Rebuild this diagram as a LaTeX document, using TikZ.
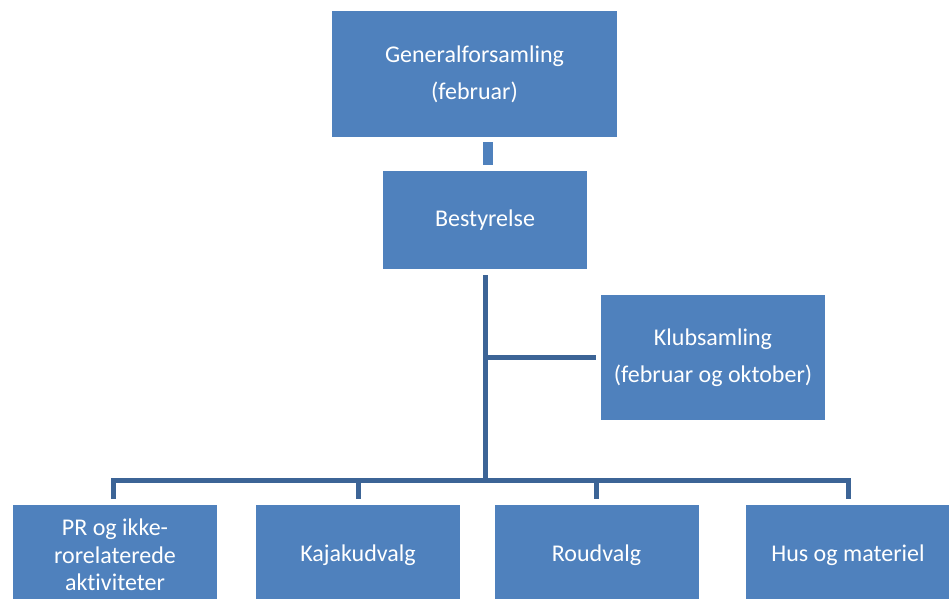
\documentclass[tikz,border=0pt]{standalone}
\usepackage{fontspec}
\setmainfont{Carlito}[Ligatures=NoCommon]
\usetikzlibrary{calc,positioning}
\definecolor{boxblue}{RGB}{79,129,189}
\definecolor{lineblue}{RGB}{60,100,150}
\tikzset{
    orgbox/.style={fill=boxblue, text=white, inner sep=0pt, align=center,
        font=\fontsize{18}{20.5}\selectfont},
    loose/.style={font=\fontsize{18}{27.75}\selectfont},
    tree/.style={draw=lineblue, line width=3.75pt, line join=miter},
    stub/.style={draw=boxblue, line width=7.5pt}
}

\begin{document}
\begin{tikzpicture}[x=0.75pt,y=0.75pt,yscale=-1,xscale=1]
\clip (0,0) rectangle (949,599);
%Boxes
\node [orgbox, loose, minimum width=213.75pt, minimum height=94.5pt] (gf) at (474.5,74.5) {Generalforsamling\\(februar)};
\node [orgbox, minimum width=153pt, minimum height=73.5pt] (best) at (485,220) {Bestyrelse};
\node [orgbox, loose, minimum width=168pt, minimum height=93.75pt] (klub) at (713,357.5) {Klubsamling\\(februar og oktober)};
\node [orgbox, minimum width=153pt, minimum height=75pt] (pr) at (115,555) {PR og ikke-\\rorelaterede\\aktiviteter};
\node [orgbox, minimum width=153pt, minimum height=75pt] (kajak) at (358,555) {Kajakudvalg};
\node [orgbox, minimum width=153pt, minimum height=75pt] (roud) at (596.5,555) {Roudvalg};
\node [orgbox, minimum width=153pt, minimum height=75pt] (hus) at (848,555) {Hus og materiel};
%Connectors
\coordinate (bus) at (485,480);
\draw [stub] ($(gf.south)+(13.5,4.5)$) -- ($(gf.south)+(13.5,27.5)$);
\draw [tree] ($(best.south)+(0,6)$) -- (bus);
\draw [tree] (best.south |- klub.west) -- ($(klub.west)+(-5,0)$);
\draw [tree] ($(pr.north)+(-2,-6)$) -- ($(pr.north |- bus)+(-2,0)$) -- (hus.north |- bus) -- ($(hus.north)+(0,-6)$);
\foreach \n in {kajak,roud}
    \draw [tree] ($(\n.north)+(0,-6)$) -- (\n.north |- bus);
\end{tikzpicture}
\end{document}
